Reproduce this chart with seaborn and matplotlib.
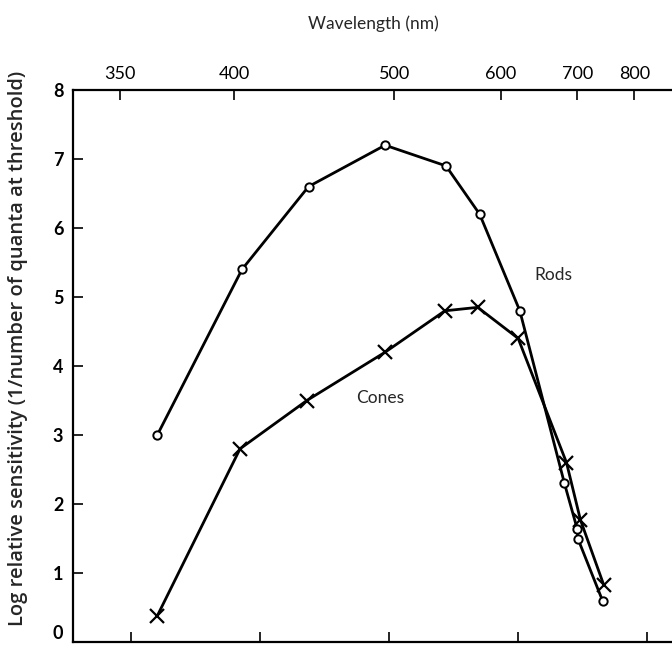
import numpy as np
import pandas as pd
import matplotlib
matplotlib.use("Agg")
import matplotlib.pyplot as plt
import seaborn as sns

# ---- data ----
rods_nm = [365, 404, 441, 493, 544, 577, 622, 681, 700, 701, 741]
rods_val = [3.0, 5.4, 6.6, 7.2, 6.9, 6.2, 4.8, 2.3, 1.64, 1.5, 0.6]
cones_nm = [365, 403, 440, 493, 543, 575, 620, 684, 705, 743]
cones_val = [0.38, 2.8, 3.5, 4.2, 4.8, 4.85, 4.4, 2.6, 1.77, 0.83]

top_ticks = [350, 400, 500, 600, 700, 800]
ev_ticks = [3.5, 3.0, 2.5, 2.0, 1.5]        # unlabeled bottom ticks (photon energy, eV)
y_ticks = [0, 1, 2, 3, 4, 5, 6, 7, 8]

rods = pd.DataFrame({"nm": rods_nm, "val": rods_val})
cones = pd.DataFrame({"nm": cones_nm, "val": cones_val})

sns.set_theme(style="white")
plt.rcParams["font.family"] = ["Lato", "DejaVu Sans"]

fig = plt.figure(figsize=(6.72, 6.48), dpi=100)
ax = fig.add_axes([73 / 672, 6 / 648, 1 - 73 / 672, (642 - 90) / 648])


def recip(x):
    x = np.asarray(x, dtype=float)
    with np.errstate(divide="ignore", invalid="ignore"):
        return -1000.0 / x


ax.set_xscale("function", functions=(recip, recip))

sns.lineplot(data=rods, x="nm", y="val", ax=ax, sort=False, color="black",
             linewidth=2.0, marker="o", markersize=6, markerfacecolor="white",
             markeredgecolor="black", markeredgewidth=1.4)
sns.lineplot(data=cones, x="nm", y="val", ax=ax, sort=False, color="black",
             linewidth=2.0, marker="x", markersize=10, markeredgecolor="black",
             markeredgewidth=1.6)

ax.set_xlim(333, 883)
ax.set_ylim(0, 8)

ax.set_xticks(top_ticks)
ax.set_xticklabels([str(t) for t in top_ticks])
ax.set_xticks([1239.84 / e for e in ev_ticks], minor=True)
ax.xaxis.set_minor_formatter(matplotlib.ticker.NullFormatter())
ax.tick_params(axis="x", which="major", top=True, bottom=False, labeltop=True,
               labelbottom=False, direction="in", length=7, width=1.2,
               pad=6, labelsize=13, color="black", labelcolor="black")
ax.tick_params(axis="x", which="minor", top=False, bottom=True, direction="in",
               length=7, width=1.2, color="black")
ax.set_yticks(y_ticks)
ax.set_yticklabels([str(t) for t in y_ticks], fontweight="bold")
ax.tick_params(axis="y", which="major", left=True, direction="in", length=7,
               width=1.2, pad=7, labelsize=13, color="black", labelcolor="black")
# keep the "0" label inside the picture, like the reference
ax.get_yticklabels()[0].set_verticalalignment("bottom")

for side in ["left", "top", "bottom"]:
    ax.spines[side].set_visible(True)
    ax.spines[side].set_color("black")
    ax.spines[side].set_linewidth(1.6)
ax.spines["right"].set_visible(False)

ax.set_xlabel("")
ax.set_ylabel("")

ax.text(666, 5.32, "Rods", fontsize=12.5, ha="center", va="center")
ax.text(489, 3.54, "Cones", fontsize=12.5, ha="center", va="center")

fig.text(373 / 672, 1 - 24 / 648, "Wavelength (nm)", fontsize=12.5,
         ha="center", va="center")
fig.text(18 / 672, 1 - 348 / 648,
         "Log relative sensitivity (1/number of quanta at threshold)",
         fontsize=14.5, rotation=90, ha="center", va="center",
         family=["Open Sans", "DejaVu Sans"], fontweight="semibold")

fig.savefig("out.png", dpi=100)
